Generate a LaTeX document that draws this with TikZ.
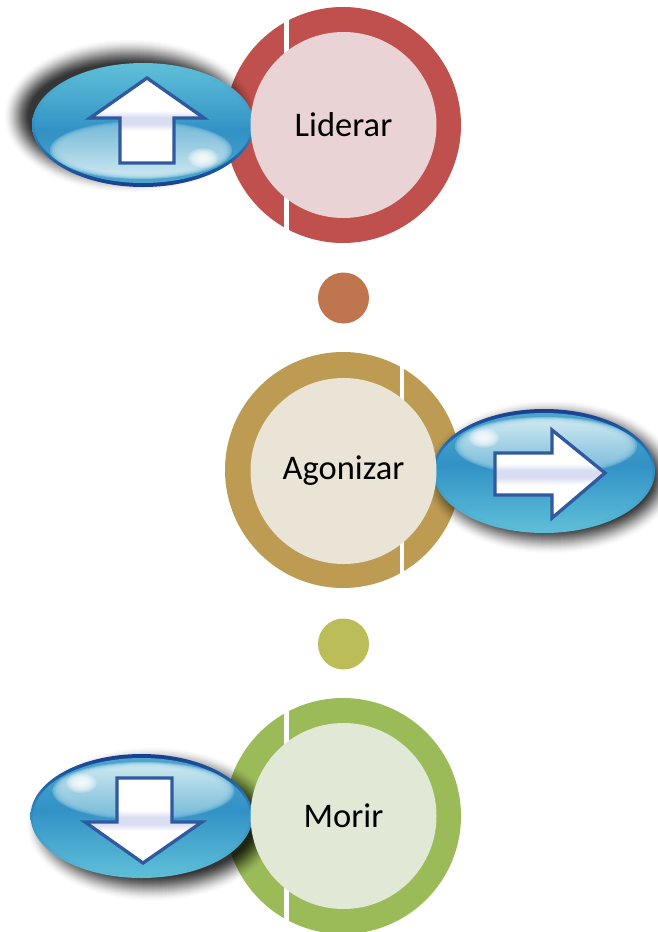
\documentclass[tikz,border=0pt]{standalone}
\usepackage{fontspec}
\setmainfont{Carlito}
\definecolor{edgeNavy}{HTML}{173F8F}
\definecolor{midBlue}{HTML}{2F8FC4}
\definecolor{lowCyan}{HTML}{5FBFD8}
\definecolor{upBlue}{HTML}{4FA6CE}
\definecolor{glossA}{HTML}{CFEAF2}
\definecolor{glossB}{HTML}{7DBEDB}
\definecolor{arrowEdge}{HTML}{30599F}
\definecolor{bandTint}{HTML}{D9DDF2}
\definecolor{ringRed}{HTML}{C0504D}
\definecolor{ringGold}{HTML}{BD9B53}
\definecolor{ringGreen}{HTML}{9BBB59}
\definecolor{discRed}{HTML}{EAD3D4}
\definecolor{discGold}{HTML}{E9E4D6}
\definecolor{discGreen}{HTML}{E1E8D5}
\definecolor{dotBrown}{HTML}{BF764F}
\definecolor{dotOlive}{HTML}{BBBE58}
\pgfdeclareverticalshading{arrowfillshade}{100bp}{
  color(0bp)=(white); color(44bp)=(white); color(48bp)=(bandTint);
  color(52bp)=(bandTint); color(56bp)=(white); color(100bp)=(white)}
\tikzset{
  innerdisc/.style={circle,minimum size=186pt,inner sep=0pt,fill=#1,draw=none,
    font=\fontsize{34.5}{40}\selectfont,text=black},
  outerdisc/.style={circle,minimum size=236pt,inner sep=0pt,fill=#1,draw=none},
  smalldot/.style={circle,minimum size=51pt,inner sep=0pt,fill=#1,draw=none},
  gapstrip/.style={fill=white,draw=none},
  arrowshape/.style={draw=arrowEdge,line width=3.3pt,line join=miter,shading=arrowfillshade},
}
\newcommand{\blurshadow}[4]{%
  \foreach \i in {0,...,24}{%
    \pgfmathsetmacro{\shadeop}{0.006+0.0042*\i}
    \fill[black,opacity=\shadeop] (#1+#3,#2+#4) ellipse ({111+15-\i} and {62+15-\i});
  }%
}
\newcommand{\glossy}[4]{%
  \begin{scope}[shift={(#1,#2)},xscale=#3,yscale=#3]
    \path[top color=edgeNavy,bottom color=lowCyan,middle color=midBlue,shading angle=#4] (0,0) ellipse (111 and 62);
    \begin{scope}
      \clip (0,0) ellipse (108.5 and 58);
      \path[top color=upBlue,bottom color=midBlue,shading angle=#4] (-112,-60) rectangle (112,0);
      \path[top color=midBlue,bottom color=lowCyan,shading angle=#4] (-112,-2) .. controls (-50,-10) and (50,-10) .. (112,-2) -- (112,60) -- (-112,60) -- cycle;
      \foreach \g in {0,...,6}{%
        \path[top color=glossA,bottom color=glossB,shading angle=#4,opacity=.38] (2,-25) ellipse ({91-1.7*\g} and {29-.9*\g});
      }
    \end{scope}
    \foreach \k in {1,...,8}{%
      \fill[white,opacity=.24] (-60,-33) ellipse ({17-1.9*\k} and {11-1.25*\k});
    }
  \end{scope}%
}
\begin{document}
\begin{tikzpicture}[x=1pt,y=-1pt]
\useasboundingbox (0,0) rectangle (657,932);
\fill[white] (0,0) rectangle (657,932);

% connecting dots
\node[smalldot=dotBrown] (dotA) at (343.5,298) {};
\node[smalldot=dotOlive] (dotB) at (343.5,644) {};

% --- Liderar
\node[outerdisc=ringRed] (ringL) at (343,125) {};
\fill[gapstrip] (284,20) rectangle (288.5,230);
\blurshadow{143}{125}{-13}{-9}
\glossy{143}{125}{-1}{180}
\path[arrowshape] (147,78) -- (204,118) -- (174,118) -- (174,163) -- (120,163) -- (120,118) -- (90,118) -- cycle;
\node[innerdisc=discRed] (lid) at (343.5,125) {Liderar};

% --- Agonizar
\node[outerdisc=ringGold] (ringA) at (343,470) {};
\fill[gapstrip] (399.5,365) rectangle (403.5,575);
\blurshadow{544}{471}{7}{6}
\glossy{544}{471}{1}{0}
\path[arrowshape] (605,473) -- (552,518) -- (552,495) -- (495,495) -- (495,453) -- (552,453) -- (552,430) -- cycle;
\node[innerdisc=discGold] (ago) at (343.5,471) {Agonizar};

% --- Morir
\node[outerdisc=ringGreen] (ringM) at (343,816) {};
\fill[gapstrip] (284,711) rectangle (288.5,921);
\blurshadow{141.5}{816}{11}{8}
\glossy{141.5}{816}{1}{0}
\path[arrowshape] (143,863) -- (85,822) -- (117,822) -- (117,778) -- (172,778) -- (172,822) -- (202,822) -- cycle;
\node[innerdisc=discGreen] (mor) at (343.5,816) {Morir};
\end{tikzpicture}
\end{document}
